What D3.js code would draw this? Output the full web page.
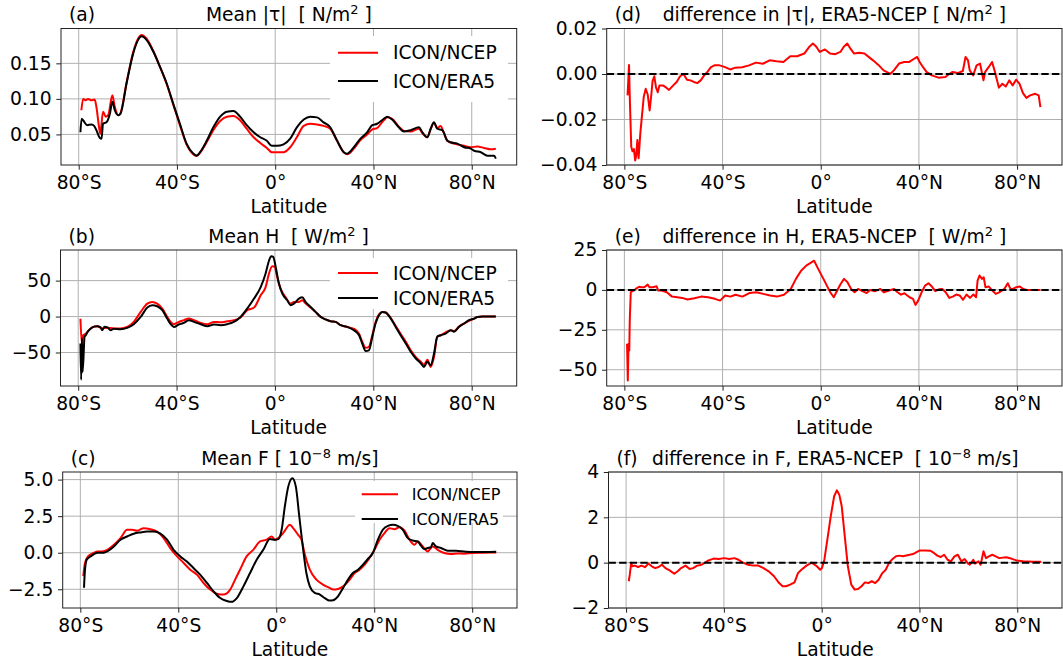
<!DOCTYPE html>
<html>
<head>
<meta charset="utf-8">
<script src="https://cdn.jsdelivr.net/npm/d3@7"></script>
<style>
  body { margin: 0; background: #fff; }
  svg { font-family: "DejaVu Sans", sans-serif; }
</style>
</head>
<body>
<svg id="fig" width="1063" height="663"></svg>
<script>
// latitude axis
var latTicks = [-80, -40, 0, 40, 80]
var latLabels = ["80°S", "40°S", "0°", "40°N", "80°N"]
var seriesNames = ["ICON/NCEP", "ICON/ERA5"]

// (a) mean wind stress [N/m2], [lat, value]
var tauNcep = [[-78.9,0.084],[-78.2,0.100],[-77.1,0.098],[-76.2,0.100],[-74.8,0.098],[-73.5,0.099],[-72.8,0.089],[-71.7,0.060],[-71.2,0.051],[-70.1,0.082],[-69.0,0.075],[-68.0,0.077],[-66.3,0.105],[-65.3,0.089],[-63.9,0.077],[-63.0,0.080],[-60.5,0.123],[-57.8,0.166],[-55.8,0.185],[-54.4,0.190],[-52.4,0.185],[-49.7,0.168],[-46.9,0.145],[-44.2,0.121],[-41.5,0.092],[-38.8,0.063],[-36.1,0.036],[-33.3,0.022],[-32.0,0.020],[-30.6,0.024],[-27.9,0.039],[-25.2,0.056],[-22.4,0.069],[-19.7,0.075],[-17.0,0.076],[-14.3,0.070],[-11.6,0.058],[-8.8,0.046],[-6.1,0.038],[-3.4,0.031],[-1.4,0.025],[0.7,0.025],[3.4,0.025],[6.1,0.032],[8.8,0.046],[11.6,0.062],[14.3,0.065],[17.0,0.064],[19.7,0.062],[22.4,0.058],[25.2,0.041],[27.9,0.025],[29.3,0.022],[32.0,0.030],[34.7,0.042],[37.4,0.050],[39.5,0.057],[41.5,0.059],[44.2,0.070],[45.6,0.074],[47.6,0.072],[50.3,0.061],[52.4,0.055],[55.1,0.054],[58.5,0.058],[59.9,0.052],[61.9,0.046],[63.3,0.058],[64.6,0.066],[66.0,0.059],[67.3,0.062],[68.7,0.052],[70.1,0.041],[72.8,0.037],[76.9,0.034],[79.6,0.032],[82.3,0.033],[85.0,0.031],[87.8,0.029],[89.8,0.030]]
var tauEra5 = [[-79.3,0.053],[-78.8,0.072],[-77.6,0.067],[-76.6,0.063],[-74.8,0.064],[-73.7,0.062],[-72.8,0.056],[-71.4,0.045],[-70.7,0.044],[-70.1,0.065],[-68.7,0.067],[-67.3,0.079],[-66.3,0.096],[-65.3,0.084],[-63.9,0.077],[-63.0,0.079],[-60.5,0.122],[-57.8,0.164],[-55.8,0.183],[-54.4,0.188],[-52.4,0.183],[-49.7,0.167],[-46.9,0.145],[-44.2,0.122],[-41.5,0.093],[-38.8,0.065],[-36.1,0.037],[-33.3,0.023],[-32.0,0.020],[-30.6,0.025],[-27.9,0.041],[-25.2,0.060],[-22.4,0.075],[-19.7,0.082],[-17.0,0.083],[-14.3,0.075],[-11.6,0.063],[-8.8,0.053],[-6.1,0.046],[-3.4,0.041],[-1.4,0.034],[0.7,0.034],[3.4,0.036],[6.1,0.044],[8.8,0.060],[11.6,0.071],[14.3,0.075],[17.0,0.074],[19.7,0.067],[22.4,0.060],[25.2,0.041],[27.9,0.025],[29.3,0.023],[32.0,0.032],[34.7,0.044],[37.4,0.053],[39.5,0.063],[41.5,0.065],[44.2,0.072],[45.6,0.075],[47.6,0.071],[50.3,0.060],[52.4,0.054],[55.1,0.056],[58.5,0.060],[59.9,0.053],[61.9,0.046],[63.3,0.058],[64.6,0.067],[66.0,0.058],[68.0,0.056],[70.1,0.041],[71.4,0.039],[74.1,0.037],[76.9,0.032],[79.6,0.030],[81.0,0.027],[83.7,0.025],[86.4,0.020],[89.1,0.020],[89.8,0.016]]

// (d) ERA5 - NCEP wind stress
var tauDiff = [[-78.7,-0.0094],[-78.1,0.004],[-77.8,-0.010],[-77.2,-0.032],[-76.7,-0.034],[-76.1,-0.033],[-75.6,-0.038],[-75.2,-0.036],[-74.7,-0.029],[-74.2,-0.037],[-73.5,-0.026],[-72.8,-0.018],[-72.1,-0.010],[-71.3,-0.0065],[-70.5,-0.009],[-69.7,-0.016],[-69.1,-0.010],[-68.5,-0.003],[-67.8,-0.001],[-67.1,-0.006],[-66.4,-0.008],[-65.7,-0.005],[-64.3,-0.005],[-62.9,-0.006],[-61.8,-0.007],[-60.1,-0.005],[-58.7,-0.0035],[-57.3,-0.001],[-55.9,0.000],[-54.5,-0.0025],[-53.1,-0.0028],[-51.7,-0.0035],[-50.3,-0.004],[-48.9,-0.0028],[-47.5,-0.0006],[-46.1,0.001],[-44.7,0.003],[-43.3,0.0038],[-41.2,0.0038],[-39.0,0.003],[-36.9,0.002],[-34.8,0.0028],[-32.0,0.003],[-29.2,0.0038],[-26.4,0.005],[-23.6,0.0045],[-20.8,0.006],[-18.0,0.0056],[-15.2,0.0053],[-12.4,0.0078],[-9.6,0.0078],[-6.7,0.009],[-4.6,0.012],[-3.2,0.0134],[-1.8,0.012],[-0.4,0.0097],[1.7,0.0108],[3.8,0.009],[5.9,0.0087],[8.0,0.0097],[9.4,0.012],[10.8,0.0134],[12.2,0.011],[13.6,0.009],[15.7,0.0093],[17.8,0.009],[19.9,0.0072],[21.3,0.006],[23.5,0.004],[25.6,0.0016],[28.4,0.0001],[29.8,0.0016],[31.9,0.0046],[34.0,0.0053],[36.1,0.0053],[38.2,0.0068],[39.3,0.0075],[40.3,0.0053],[41.7,0.003],[43.1,0.0009],[45.2,-0.0006],[48.0,-0.0016],[50.8,-0.0013],[52.2,-0.0001],[53.7,0.0009],[55.8,0.0004],[57.9,0.0013],[59.0,0.0075],[60.0,0.006],[60.7,0.0016],[62.1,-0.0006],[63.5,0.0038],[64.9,0.0046],[66.3,-0.0028],[67.0,0.0009],[68.4,0.003],[69.8,0.0053],[70.8,0.0016],[72.6,-0.006],[74.0,-0.0043],[75.4,-0.0055],[76.8,-0.0028],[78.2,-0.005],[79.6,-0.0025],[81.0,-0.0043],[82.4,-0.0084],[83.8,-0.0105],[85.3,-0.0094],[87.4,-0.0087],[88.8,-0.0094],[89.5,-0.0146]]

// (b) mean heat flux [W/m2]
var hNcep = [[-79.1,-3],[-78.5,-37.5],[-78.0,-26],[-77.0,-24],[-75.7,-19],[-74.3,-15],[-72.3,-13.4],[-70.2,-16.5],[-68.2,-15.5],[-65.5,-16.5],[-62.8,-16.5],[-60.1,-14.5],[-57.4,-7.4],[-54.6,6.5],[-51.9,18],[-49.9,20.4],[-47.9,18],[-45.8,11],[-43.8,-0.5],[-42.4,-7.4],[-41.1,-10.6],[-39.1,-7.5],[-37.0,-5],[-35.0,-2.8],[-32.9,-5],[-30.2,-8.8],[-27.5,-10.6],[-24.8,-7.4],[-22.1,-8],[-19.4,-6.5],[-16.7,-5],[-14.0,-1.4],[-11.3,8.8],[-8.5,12.5],[-5.8,29.6],[-3.8,41],[-2.4,60],[-1.1,70],[-0.1,69],[0.9,55],[2.3,39],[4.3,27],[6.4,18],[7.7,20.4],[9.8,20.4],[11.1,22.7],[12.5,18],[14.5,12.5],[16.5,6.5],[18.6,-0.5],[20.6,-4],[22.6,-6.5],[24.7,-7.4],[26.7,-12],[29.4,-14.4],[32.1,-17],[34.2,-24],[35.5,-35],[36.9,-43.5],[38.2,-42],[39.6,-26],[40.9,-8],[42.3,3],[43.7,6.5],[45.0,5.6],[47.1,-2],[49.1,-13],[51.1,-24],[53.2,-35],[55.2,-47],[57.2,-56],[59.3,-63],[60.6,-67],[62.0,-60],[63.3,-70],[64.7,-56],[66.0,-28],[67.4,-26],[69.4,-22],[71.5,-19],[72.8,-20],[74.8,-14],[76.9,-9.7],[78.9,-6],[81.0,-3],[82.3,-0.5],[84.3,0],[86.4,0],[89.8,0]]
var hEra5 = [[-79.1,-37.5],[-78.8,-88],[-78.5,-30],[-78.2,-77],[-77.4,-28],[-76.9,-26],[-76.1,-21],[-75.0,-17],[-73.6,-14],[-72.3,-13.4],[-70.9,-15],[-70.2,-19],[-69.3,-14],[-68.2,-15],[-66.8,-19],[-65.5,-17],[-62.8,-17.6],[-60.1,-15.7],[-57.4,-10.6],[-54.6,-0.5],[-51.9,12.5],[-49.9,15.7],[-47.9,14.4],[-45.8,8.8],[-43.8,-2.8],[-42.4,-10.6],[-41.1,-14.4],[-39.1,-11],[-37.0,-8.8],[-35.0,-5],[-32.9,-7.4],[-30.2,-10.6],[-27.5,-13.4],[-24.8,-11],[-22.1,-12],[-19.4,-10.6],[-16.7,-7.4],[-14.0,-0.5],[-11.3,11],[-8.5,25],[-5.8,41],[-3.8,60],[-2.4,78],[-1.5,84],[-0.7,83],[0.3,69],[1.6,46],[3.0,32],[5.0,22.7],[6.4,15.7],[7.7,18],[9.8,25],[11.1,27],[12.5,20],[14.5,13.4],[16.5,6.5],[18.6,-0.5],[20.6,-4],[22.6,-6.5],[24.7,-7.4],[26.7,-12],[29.4,-14.4],[32.1,-19],[34.2,-26],[35.5,-37.5],[36.9,-48],[38.2,-47],[39.6,-28],[40.9,-9.7],[42.3,1.9],[43.7,6.5],[45.0,5.6],[47.1,-2.8],[49.1,-14.4],[51.1,-26],[53.2,-37.5],[55.2,-49],[57.2,-58],[59.3,-65],[60.6,-70],[62.0,-63],[63.3,-67.6],[64.7,-51],[66.0,-28],[67.4,-26],[69.4,-23.6],[71.5,-19],[72.8,-21],[74.8,-14.4],[76.9,-9.7],[78.9,-5],[81.0,-2.8],[82.3,-0.5],[84.3,0],[86.4,0],[89.8,0]]

// (e) ERA5 - NCEP heat flux
var hDiff = [[-78.9,-33.7],[-78.6,-56.7],[-78.3,-33.7],[-78.0,-38],[-77.8,-19],[-77.4,-1.5],[-76.8,-0.8],[-76.1,-0.4],[-75.4,0.6],[-74.0,2],[-73.3,1.7],[-71.9,1.7],[-70.5,3.3],[-69.8,1.7],[-68.4,1.7],[-66.9,2.3],[-66.2,-0.4],[-64.8,-0.4],[-62.7,-1.5],[-60.6,-4.2],[-58.5,-4.6],[-56.4,-5],[-54.3,-6],[-51.5,-5.2],[-48.7,-4.2],[-45.9,-4.6],[-43.1,-5.6],[-41.0,-6.7],[-38.9,-3.5],[-36.8,-4.2],[-34.7,-3],[-31.9,-4.2],[-29.1,-2],[-26.2,-1.5],[-23.4,-2.5],[-20.6,-3.5],[-17.8,-4.2],[-15.0,-3],[-12.2,0.6],[-10.1,6.9],[-8.0,12],[-5.9,15.2],[-3.8,17.3],[-2.7,18.3],[-1.7,15.2],[-0.3,11],[1.1,6.9],[2.5,2.7],[3.9,-1.5],[5.3,-4.6],[6.7,-0.4],[8.1,3.7],[9.5,6.9],[10.9,4.8],[12.4,0.6],[13.8,-1.5],[15.2,0.6],[16.6,-0.4],[18.7,-2],[20.1,0],[22.2,-0.8],[24.3,0.6],[25.7,-1.5],[27.8,-0.4],[29.9,0.6],[31.3,-1.5],[32.7,-3],[34.1,-2.1],[36.2,-4.6],[37.6,-5.6],[38.6,-9.4],[39.7,-6.7],[41.1,-1.5],[42.5,2.7],[43.9,4.2],[45.3,2.1],[46.7,-0.8],[48.1,0.4],[49.5,0.6],[50.9,-1.5],[52.4,-5],[53.8,-4.2],[55.2,-2.9],[56.6,-3.5],[58.0,-6.2],[59.4,-2.9],[60.8,-5],[62.2,-2.9],[63.3,-4.6],[63.9,5.8],[64.7,9],[65.7,6.9],[66.4,7.9],[67.1,1.7],[68.5,2.1],[69.9,-0.4],[71.3,-2.5],[72.7,-1.5],[74.8,0.6],[76.2,4.2],[77.3,0.6],[78.3,0.6],[79.7,1.7],[81.1,2.1],[82.5,0.6],[83.9,0],[89.5,0]]

// (c) mean freshwater flux [1e-8 m/s]
var fNcep = [[-78.8,-1.6],[-78.1,-0.7],[-76.9,-0.25],[-74.4,0],[-73.1,0.09],[-71.1,0.09],[-69.0,0.2],[-66.3,0.55],[-63.6,1.0],[-60.9,1.57],[-58.8,1.57],[-56.8,1.5],[-54.1,1.68],[-51.4,1.61],[-48.7,1.45],[-46.0,1.0],[-43.3,0.32],[-40.5,-0.25],[-37.8,-0.7],[-35.1,-1.16],[-32.4,-1.5],[-29.7,-2.07],[-27.0,-2.52],[-24.3,-2.8],[-21.6,-2.86],[-18.8,-2.52],[-16.8,-1.84],[-14.8,-1.16],[-12.1,-0.25],[-9.4,0.2],[-6.6,0.77],[-3.9,0.89],[-1.9,1.11],[-0.5,0.89],[0.8,1.0],[2.8,1.34],[5.6,1.91],[6.9,1.68],[8.9,1.23],[10.3,0.89],[11.7,-0.14],[13.7,-1.16],[16.4,-1.84],[19.1,-2.18],[21.8,-2.41],[23.2,-2.52],[25.2,-2.48],[27.3,-2.3],[30.0,-1.84],[32.0,-1.39],[34.0,-1.16],[36.1,-0.82],[38.1,-0.36],[40.1,0.2],[42.2,0.89],[44.2,1.34],[46.2,1.68],[48.3,1.61],[50.3,1.75],[52.3,1.52],[54.4,0.89],[56.4,0.55],[57.8,0.77],[59.8,0.43],[61.8,0.09],[63.9,0.43],[65.9,0.2],[68.6,-0.02],[71.3,-0.09],[74.0,-0.05],[76.7,-0.07],[80.1,-0.02],[84.2,0.0],[89.8,0.02]]
var fEra5 = [[-78.5,-2.4],[-78.1,-1.16],[-77.4,-0.48],[-75.8,-0.25],[-73.1,0],[-70.4,0],[-69.0,0.09],[-66.3,0.43],[-63.6,0.89],[-60.9,1.11],[-58.2,1.3],[-55.5,1.39],[-52.7,1.45],[-50.0,1.45],[-47.3,1.3],[-44.6,0.89],[-41.9,0.2],[-39.2,-0.25],[-36.5,-0.6],[-33.8,-1.05],[-31.1,-1.5],[-28.3,-2.07],[-25.6,-2.64],[-22.9,-3.1],[-20.2,-3.3],[-18.2,-3.36],[-16.1,-3.1],[-13.4,-2.3],[-10.7,-1.39],[-8.0,-0.48],[-5.3,0.2],[-2.6,0.93],[-0.5,0.89],[0.8,0.93],[2.2,1.57],[3.5,3.16],[4.9,4.52],[6.6,5.09],[8.0,4.52],[9.4,2.48],[11.0,0.2],[12.3,-1.39],[13.7,-2.3],[15.7,-2.75],[17.8,-2.86],[19.8,-3.1],[21.8,-3.27],[23.2,-3.25],[25.2,-2.98],[27.3,-2.41],[29.3,-1.84],[31.3,-1.39],[33.4,-1.16],[35.4,-0.82],[37.4,-0.43],[39.5,0],[41.5,0.89],[43.5,1.57],[45.6,1.84],[47.6,1.91],[49.6,1.84],[51.7,1.57],[53.7,1.0],[55.7,0.84],[57.8,0.77],[59.1,0.48],[60.5,0.25],[61.8,0.32],[63.2,0.39],[63.9,0.66],[65.2,0.43],[67.3,0.32],[70.0,0.14],[73.4,0.14],[77.4,0.07],[81.5,0.05],[89.8,0.07]]

// (f) ERA5 - NCEP freshwater flux
var fDiff = [[-78.9,-0.82],[-78.5,-0.53],[-77.9,0],[-77.5,-0.16],[-76.5,-0.13],[-75.1,-0.19],[-73.7,-0.13],[-72.3,-0.2],[-70.9,-0.04],[-69.5,-0.16],[-68.1,-0.24],[-66.7,-0.19],[-65.3,-0.09],[-63.9,-0.24],[-62.2,-0.34],[-60.3,-0.49],[-58.9,-0.38],[-57.5,-0.24],[-55.7,-0.13],[-54.0,-0.28],[-52.6,-0.24],[-50.9,-0.13],[-49.1,-0.09],[-47.7,0],[-46.3,0.1],[-44.2,0.18],[-42.1,0.16],[-39.9,0.2],[-37.8,0.16],[-35.7,0.2],[-34.0,0.13],[-32.2,0],[-30.1,-0.09],[-28.0,-0.13],[-25.9,-0.13],[-23.8,-0.24],[-21.7,-0.38],[-19.5,-0.6],[-17.4,-0.9],[-16.0,-1.04],[-14.6,-1.04],[-12.9,-0.97],[-11.1,-0.87],[-9.7,-0.46],[-8.3,-0.31],[-6.2,-0.13],[-4.1,0],[-2.0,-0.16],[-0.6,-0.31],[0.1,-0.24],[1.1,0.13],[2.3,1.01],[3.7,2.04],[5.1,2.93],[6.2,3.19],[7.2,3.0],[8.2,2.49],[9.3,1.31],[10.7,-0.16],[12.1,-0.97],[13.5,-1.19],[14.9,-1.16],[16.3,-1.04],[17.7,-0.87],[19.1,-0.9],[20.5,-0.82],[21.9,-0.9],[23.3,-0.75],[24.8,-0.46],[26.2,-0.31],[27.6,0],[29.0,0.16],[30.4,0.28],[31.8,0.31],[33.2,0.28],[34.6,0.32],[36.0,0.35],[37.4,0.38],[38.8,0.46],[40.2,0.54],[42.3,0.54],[44.4,0.53],[45.9,0.43],[47.3,0.31],[48.7,0.25],[50.1,0.35],[51.5,0.13],[52.9,0.06],[54.3,0.28],[55.7,0.35],[57.1,0.06],[58.5,0.16],[59.9,-0.04],[60.6,-0.09],[62.0,0.13],[62.7,-0.04],[64.1,0.06],[65.0,-0.09],[66.2,0.5],[67.2,0.2],[68.4,0.28],[69.8,0.35],[71.2,0.28],[72.6,0.2],[75.4,0.24],[77.5,0.18],[79.6,0.1],[82.4,0.06],[86.6,0.04],[89.8,0.04]]

// y ticks per panel
var tauTicks = [0.05, 0.10, 0.15]
var tauDiffTicks = [-0.04, -0.02, 0.00, 0.02]
var hTicks = [-50, 0, 50]
var hDiffTicks = [-50, -25, 0, 25]
var fTicks = [-2.5, 0.0, 2.5, 5.0]
var fDiffTicks = [-2, 0, 2, 4]

var svg = d3.select("#fig")
var fs = 18.7
var latDomain = [-87.2, 98.3]

var panels = [
  { tag: "(a)", left: 61, right: 516.7, top: 28.5, bottom: 165, ydom: [0.007, 0.199], ticks: tauTicks, fmt: d3.format(".2f"),
    lines: [tauNcep, tauEra5], smooth: true,
    title: [["Mean |τ|  [ N/m"], ["2", 1], [" ]"]],
    legend: { x: 330, y: 36, w: 178, h: 66, rows: [52.7, 81], lx: [338, 378], tx: 393, fs: fs } },
  { tag: "(d)", left: 606.7, right: 1062, top: 28.5, bottom: 165, ydom: [-0.04, 0.02], ticks: tauDiffTicks, fmt: d3.format(".2f"),
    lines: [tauDiff], diff: true,
    title: [["difference in |τ|, ERA5-NCEP [ N/m"], ["2", 1], [" ]"]] },
  { tag: "(b)", left: 60.5, right: 516.7, top: 250, bottom: 386, ydom: [-96.6, 92.6], ticks: hTicks, fmt: d3.format("d"),
    lines: [hNcep, hEra5], smooth: true,
    title: [["Mean H  [ W/m"], ["2", 1], [" ]"]],
    legend: { x: 330, y: 258, w: 178, h: 51, rows: [273, 298], lx: [338, 378], tx: 393, fs: fs } },
  { tag: "(e)", left: 606.7, right: 1062, top: 250, bottom: 386, ydom: [-60.2, 25], ticks: hDiffTicks, fmt: d3.format("d"),
    lines: [hDiff], diff: true,
    title: [["difference in H, ERA5-NCEP  [ W/m"], ["2", 1], [" ]"]] },
  { tag: "(c)", left: 62.7, right: 517, top: 472, bottom: 608, ydom: [-3.78, 5.52], ticks: fTicks, fmt: d3.format(".1f"),
    lines: [fNcep, fEra5], smooth: true,
    title: [["Mean F [ 10"], ["−8", 1], [" m/s]"]],
    legend: { x: 355, y: 481, w: 148, h: 42, rows: [494.3, 519], lx: [361.7, 398], tx: 411.7, fs: 16 } },
  { tag: "(f)", left: 608.5, right: 1062, top: 472, bottom: 608, ydom: [-2, 4], ticks: fDiffTicks, fmt: d3.format("d"),
    lines: [fDiff], diff: true,
    title: [["difference in F, ERA5-NCEP  [ 10"], ["−8", 1], [" m/s]"]] }
]

var colors = ["red", "black"]

panels.forEach(function(p) {
  var x = d3.scaleLinear().domain(latDomain).range([p.left, p.right])
  var y = d3.scaleLinear().domain(p.ydom).range([p.bottom, p.top])
  var g = svg.append("g")

  // grid
  g.selectAll(null)
    .data(latTicks)
    .enter()
    .append("line")
      .attr("x1", function(d){ return x(d) })
      .attr("x2", function(d){ return x(d) })
      .attr("y1", p.top)
      .attr("y2", p.bottom)
      .attr("stroke", "#b0b0b0")
      .attr("stroke-width", 1)
  g.selectAll(null)
    .data(p.ticks)
    .enter()
    .append("line")
      .attr("x1", p.left)
      .attr("x2", p.right)
      .attr("y1", function(d){ return y(d) })
      .attr("y2", function(d){ return y(d) })
      .attr("stroke", "#b0b0b0")
      .attr("stroke-width", 1)

  // data lines
  var line = d3.line()
    .x(function(d){ return x(d[0]) })
    .y(function(d){ return y(d[1]) })
    .curve(p.smooth ? d3.curveMonotoneX : d3.curveLinear)
  p.lines.forEach(function(data, i) {
    g.append("path")
      .datum(data)
      .attr("d", line)
      .attr("fill", "none")
      .attr("stroke", colors[i])
      .attr("stroke-width", 2)
      .attr("stroke-linejoin", "round")
  })

  // zero line for difference panels
  if (p.diff) {
    g.append("line")
      .attr("x1", p.left)
      .attr("x2", p.right)
      .attr("y1", y(0))
      .attr("y2", y(0))
      .attr("stroke", "black")
      .attr("stroke-width", 2)
      .style("stroke-dasharray", "7.4,3.2")
  }

  // frame
  g.append("rect")
    .attr("x", p.left)
    .attr("y", p.top)
    .attr("width", p.right - p.left)
    .attr("height", p.bottom - p.top)
    .attr("fill", "none")
    .attr("stroke", "#222")
    .attr("stroke-width", 1)

  // axes
  var xa = g.append("g")
    .attr("transform", "translate(0," + p.bottom + ")")
    .call(d3.axisBottom(x).tickValues(latTicks)
      .tickFormat(function(d, i){ return latLabels[i] })
      .tickSize(4.7).tickPadding(6))
  var ya = g.append("g")
    .attr("transform", "translate(" + p.left + ",0)")
    .call(d3.axisLeft(y).tickValues(p.ticks).tickFormat(p.fmt)
      .tickSize(4.7).tickPadding(4.7))
  ;[xa, ya].forEach(function(a) {
    a.select(".domain").remove()
    a.attr("font-size", fs).attr("font-family", "DejaVu Sans")
    a.selectAll("line").attr("stroke", "#222")
  })

  // x label
  g.append("text")
    .attr("x", (p.left + p.right) / 2)
    .attr("y", p.bottom + 47.5)
    .attr("text-anchor", "middle")
    .style("font-size", fs + "px")
    .text("Latitude")

  // title
  var t = g.append("text")
    .attr("x", (p.left + p.right) / 2)
    .attr("y", p.top - 7.5)
    .attr("text-anchor", "middle")
    .style("font-size", fs + "px")
    .style("white-space", "pre")
  var up = 0
  p.title.forEach(function(s) {
    var sp = t.append("tspan").text(s[0])
    if (s[1]) {
      sp.style("font-size", "13px").attr("dy", -7)
      up = 7
    } else if (up) {
      sp.attr("dy", up)
      up = 0
    }
  })
  g.append("text")
    .attr("x", p.left + 8)
    .attr("y", p.top - 7.5)
    .style("font-size", fs + "px")
    .text(p.tag)

  // legend
  if (p.legend) {
    var L = p.legend
    g.append("rect")
      .attr("x", L.x).attr("y", L.y)
      .attr("width", L.w).attr("height", L.h)
      .attr("fill", "white")
    seriesNames.forEach(function(name, i) {
      g.append("line")
        .attr("x1", L.lx[0]).attr("x2", L.lx[1])
        .attr("y1", L.rows[i]).attr("y2", L.rows[i])
        .attr("stroke", colors[i])
        .attr("stroke-width", 2)
      g.append("text")
        .attr("x", L.tx)
        .attr("y", L.rows[i])
        .attr("dy", "0.36em")
        .style("font-size", L.fs + "px")
        .text(name)
    })
  }
})
</script>
</body>
</html>
